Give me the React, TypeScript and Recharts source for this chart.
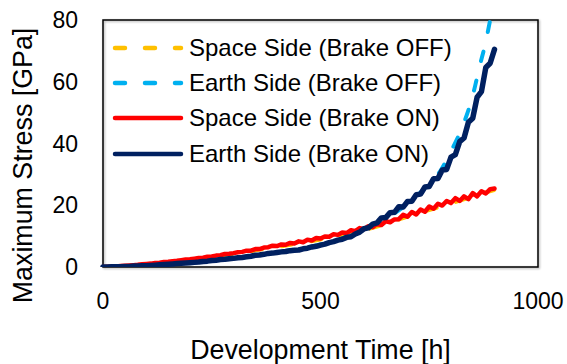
import React from 'react';
import { LineChart, Line, XAxis, YAxis, Legend, ReferenceArea, Label } from 'recharts';

// time axis of the measured runs (h)
const timeOn = [
  0, 10, 20, 30, 40, 50, 60, 70, 80, 90,
  100, 110, 120, 130, 140, 150, 160, 170, 180, 190,
  200, 210, 220, 230, 240, 250, 260, 270, 280, 290,
  300, 310, 320, 330, 340, 350, 360, 370, 380, 390,
  400, 410, 420, 430, 440, 450, 460, 470, 480, 490,
  500, 510, 520, 530, 540, 550, 560, 570, 580, 590,
  600, 610, 620, 630, 640, 650, 660, 670, 680, 690,
  700, 710, 720, 730, 740, 750, 760, 770, 780, 790,
  800, 810, 820, 830, 840, 850, 860, 870, 880, 890,
  900,
];

const spaceOn = [
  0, 0.1, 0.1, 0.2, 0.3, 0.4, 0.5, 0.6, 0.7, 0.9,
  1.0, 1.1, 1.3, 1.4, 1.6, 1.7, 1.9, 2.0, 2.2, 2.4,
  2.5, 2.7, 2.9, 3.0, 3.3, 3.4, 3.7, 3.8, 4.2, 4.3,
  4.5, 4.8, 4.9, 5.3, 5.3, 5.8, 5.8, 6.3, 6.4, 6.9,
  6.8, 7.3, 7.2, 7.8, 7.6, 8.3, 8.0, 8.8, 8.6, 9.4,
  9.2, 9.9, 9.8, 10.6, 10.4, 11.2, 11.0, 11.9, 11.6, 12.6,
  12.3, 13.2, 12.9, 14.0, 13.6, 14.8, 14.5, 15.4, 15.5, 16.9,
  16.3, 17.8, 17.0, 18.6, 17.9, 19.6, 18.9, 20.5, 19.9, 21.4,
  20.7, 22.3, 21.4, 22.9, 22.0, 23.9, 22.9, 24.5, 23.8, 25.2,
  25.4,
];

const earthOn = [
  0, 0, 0.1, 0.1, 0.1, 0.2, 0.2, 0.3, 0.3, 0.4,
  0.4, 0.5, 0.6, 0.7, 0.8, 0.9, 1.0, 1.1, 1.2, 1.3,
  1.4, 1.5, 1.6, 1.8, 1.9, 2.1, 2.2, 2.4, 2.5, 2.7,
  2.8, 3.0, 3.1, 3.3, 3.5, 3.8, 3.9, 4.1, 4.4, 4.5,
  4.7, 4.9, 5.0, 5.3, 5.4, 5.5, 5.9, 6.1, 6.5, 6.7,
  7.1, 7.4, 7.9, 8.2, 8.7, 9.0, 9.6, 9.8, 10.7, 11.3,
  12.4, 12.7, 13.9, 14.3, 15.9, 16.0, 17.6, 17.7, 19.5, 19.4,
  21.2, 21.3, 23.4, 23.6, 25.9, 26.1, 28.6, 28.7, 31.4, 31.6,
  35.6, 36.4, 40.6, 41.8, 46.9, 48.2, 55.0, 56.8, 64.6, 66.0,
  70.5,
];

const timeSpaceOff = [0, 100, 200, 300, 400, 500, 600, 700, 800, 900];
const spaceOff = [0, 0.8, 2.3, 4.3, 6.5, 8.9, 11.9, 16.3, 20.6, 25.0];

const timeEarthOff = [0, 100, 200, 300, 400, 500, 550, 600, 650, 700, 750, 775, 800, 825, 850, 865, 880, 890];
const earthOff = [0, 0.4, 1.4, 2.9, 4.8, 7.3, 9.3, 12.0, 15.6, 20.5, 27.0, 31.0, 37.5, 45.0, 55.5, 64.5, 73.0, 80.0];

const seriesNames = [
  'Space Side (Brake OFF)',
  'Earth Side (Brake OFF)',
  'Space Side (Brake ON)',
  'Earth Side (Brake ON)',
];

const xTicks = [0, 500, 1000];
const yTicks = [0, 20, 40, 60, 80];

const toRows = (ts: number[], vs: number[]) => ts.map((t, i) => ({ t, v: vs[i] }));

const FONT = '"Liberation Sans", Arial, sans-serif';

function LegendBox(props: any) {
  const payload = [...(props.payload || [])].sort(
    (a: any, b: any) => seriesNames.indexOf(a.value) - seriesNames.indexOf(b.value),
  );
  return (
    <div style={{ display: 'flex', flexDirection: 'column' }}>
      {payload.map((item: any, i: number) => (
        <div key={item.value} style={{ display: 'flex', alignItems: 'center', height: 35.3 }}>
          <svg width={74} height={10}>
            <line x1={4} y1={5} x2={70} y2={5} stroke={item.color} strokeWidth={4.5}
              strokeLinecap="round" strokeDasharray={i < 2 ? '10 20' : undefined} />
          </svg>
          <span style={{ fontSize: 24, color: '#000', marginLeft: 4, whiteSpace: 'nowrap', fontFamily: FONT }}>
            {item.value}
          </span>
        </div>
      ))}
    </div>
  );
}

export default function App() {
  return (
    <div style={{ position: 'absolute', left: 0, top: 0, width: 567, height: 364, background: '#fff', fontFamily: FONT }}>
      <LineChart width={567} height={364} margin={{ top: 20, right: 29, left: 0, bottom: 0 }}>
        <XAxis type="number" dataKey="t" domain={[0, 1000]} ticks={xTicks} interval={0}
          height={97} tickSize={0} tickMargin={26} axisLine={false} tickLine={false}
          tick={{ fill: '#000', fontSize: 23 }}>
          <Label content={(p: any) => (
            <text x={p.viewBox.x + p.viewBox.width / 2} y={p.viewBox.y + 92} textAnchor="middle"
              fontSize={26.8} fill="#000">Development Time [h]</text>
          )} />
        </XAxis>
        <YAxis type="number" domain={[0, 80]} ticks={yTicks} interval={0} allowDataOverflow
          width={103} tickSize={0} tickMargin={25} axisLine={false} tickLine={false}
          tick={{ fill: '#000', fontSize: 23 }}>
          <Label content={(p: any) => {
            const cx = 32;
            const cy = p.viewBox.y + p.viewBox.height / 2 + 22;
            return (
              <text x={cx} y={cy} transform={`rotate(-90, ${cx}, ${cy})`} textAnchor="middle"
                fontSize={26.8} fill="#000">Maximum Stress [GPa]</text>
            );
          }} />
        </YAxis>
        <ReferenceArea x1={0} x2={1000} y1={0} y2={80} fill="none" stroke="#000" strokeWidth={1.5}
          fillOpacity={0} strokeOpacity={1}
          style={{ filter: 'drop-shadow(1.5px 1.5px 1px rgba(0,0,0,0.35))' }} />
        <Legend layout="vertical" align="center" verticalAlign="middle" content={LegendBox}
          wrapperStyle={{ left: 111, top: 30, width: 'auto', height: 'auto' }} />
        <Line data={toRows(timeSpaceOff, spaceOff)} dataKey="v" name={seriesNames[0]} type="monotone"
          stroke="#FFC000" strokeWidth={4} strokeDasharray="10 20" strokeLinecap="round" dot={false}
          isAnimationActive={false} />
        <Line data={toRows(timeEarthOff, earthOff)} dataKey="v" name={seriesNames[1]} type="monotone"
          stroke="#00B0F0" strokeWidth={4} strokeDasharray="10 20" strokeLinecap="round" dot={false}
          isAnimationActive={false} />
        <Line data={toRows(timeOn, spaceOn)} dataKey="v" name={seriesNames[2]} type="linear"
          stroke="#FF0000" strokeWidth={4.5} strokeLinejoin="round" strokeLinecap="round" dot={false}
          isAnimationActive={false} />
        <Line data={toRows(timeOn, earthOn)} dataKey="v" name={seriesNames[3]} type="linear"
          stroke="#002060" strokeWidth={5.5} strokeLinejoin="round" strokeLinecap="round" dot={false}
          isAnimationActive={false} />
      </LineChart>
    </div>
  );
}
